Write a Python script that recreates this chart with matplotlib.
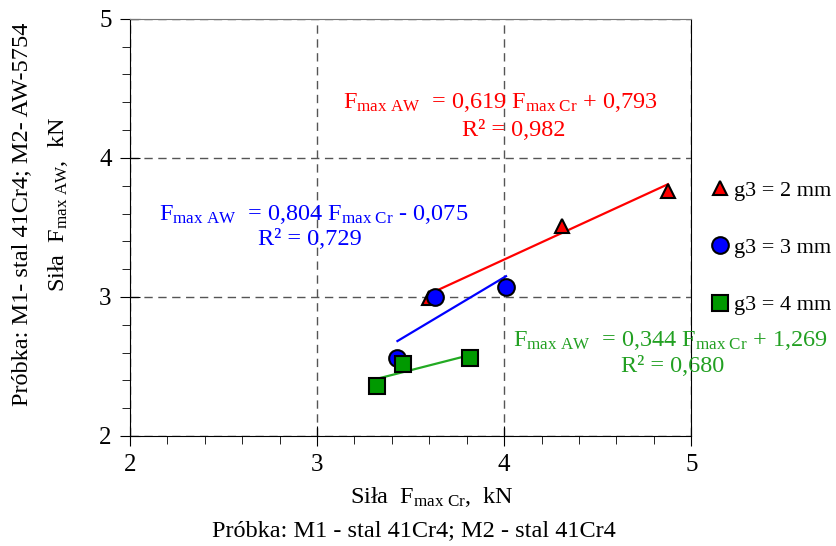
import matplotlib
matplotlib.use("Agg")
import matplotlib.pyplot as plt
from matplotlib.ticker import MultipleLocator

plt.rcParams["font.family"] = ["Liberation Serif", "DejaVu Serif"]
plt.rcParams["mathtext.fontset"] = "custom"
plt.rcParams["mathtext.rm"] = "Liberation Serif"
plt.rcParams["mathtext.it"] = "Liberation Serif"

# ─── Dane ─────────────────────────────
x_g2 = [3.60, 4.31, 4.875]
y_g2 = [2.99, 3.51, 3.76]
x_g3 = [3.43, 3.63, 4.01]
y_g3 = [2.56, 3.00, 3.07]
x_g4 = [3.32, 3.46, 3.82]
y_g4 = [2.36, 2.52, 2.56]

labels = ["g3 = 2 mm", "g3 = 3 mm", "g3 = 4 mm"]
fit_a = [0.619, 0.804, 0.344]
fit_b = [0.793, -0.075, 1.269]
eq_txt = [
    r"F$_{\mathrm{max\ AW}}$  = 0,619 F$_{\mathrm{max\ Cr}}$ + 0,793",
    r"F$_{\mathrm{max\ AW}}$  = 0,804 F$_{\mathrm{max\ Cr}}$ - 0,075",
    r"F$_{\mathrm{max\ AW}}$  = 0,344 F$_{\mathrm{max\ Cr}}$ + 1,269",
]
r2_txt = ["R² = 0,982", "R² = 0,729", "R² = 0,680"]
eq_pos = [(3.98, 4.40), (2.98, 3.59), (4.89, 2.69)]
r2_pos = [(4.05, 4.20), (2.96, 3.41), (4.90, 2.50)]

colors = ["#FF0000", "#0000FF", "#009900"]
line_colors = ["#FF0000", "#0000FF", "#22AA22"]
text_colors = ["#FF0000", "#0000FF", "#22A022"]
markers = ["^", "o", "s"]
msizes = [10.5, 12, 11.5]

fig = plt.figure(figsize=(8.37, 5.46), dpi=100)
ax = fig.add_axes([0.155, 0.2015, 0.671, 0.764])

series = [(x_g2, y_g2), (x_g3, y_g3), (x_g4, y_g4)]
for i, (xs, ys) in enumerate(series):
    x0, x1 = min(xs), max(xs)
    ax.plot([x0, x1], [fit_a[i] * x0 + fit_b[i], fit_a[i] * x1 + fit_b[i]],
            color=line_colors[i], lw=1.6, zorder=2)
for i, (xs, ys) in enumerate(series):
    ax.plot(xs, ys, ls="none", marker=markers[i], ms=msizes[i],
            mfc=colors[i], mec="black", mew=1.5, label=labels[i], zorder=3)
    ax.text(eq_pos[i][0], eq_pos[i][1], eq_txt[i], color=text_colors[i],
            fontsize=17.5, ha="center", va="center")
    ax.text(r2_pos[i][0], r2_pos[i][1], r2_txt[i], color=text_colors[i],
            fontsize=17.5, ha="center", va="center")

ax.set_xlim(2, 5)
ax.set_ylim(2, 5)
ax.xaxis.set_major_locator(MultipleLocator(1))
ax.yaxis.set_major_locator(MultipleLocator(1))
ax.xaxis.set_minor_locator(MultipleLocator(0.2))
ax.yaxis.set_minor_locator(MultipleLocator(0.2))
ax.tick_params(which="major", direction="inout", length=14, labelsize=18, pad=6)
ax.tick_params(which="minor", direction="out", length=6)
ax.grid(which="major", color="#555555", ls=(0, (6, 4)), lw=1)
for s in ["left", "bottom", "right"]:
    ax.spines[s].set_color("black")
ax.spines["top"].set_color("#777777")

# podpisy osi
fig.text(0.516, 0.0897, r"Siła  F$_{\mathrm{max\ Cr}}$,  kN", fontsize=17.5,
         ha="center", va="center")
fig.text(0.495, 0.029, "Próbka: M1 - stal 41Cr4; M2 - stal 41Cr4", fontsize=17.5,
         ha="center", va="center")
fig.text(0.026, 0.608, "Próbka: M1- stal 41Cr4; M2- AW-5754", fontsize=17.5,
         ha="center", va="center", rotation=90)
fig.text(0.069, 0.625, r"Siła  F$_{\mathrm{max\ AW}}$,  kN", fontsize=17.5,
         ha="center", va="center", rotation=90)

ax.legend(loc="upper left", bbox_to_anchor=(1.0, 0.65), frameon=False,
          fontsize=16, handletextpad=0.0, labelspacing=1.65, handlelength=1.2,
          borderaxespad=0.3)

plt.savefig("out.png", dpi=100)
